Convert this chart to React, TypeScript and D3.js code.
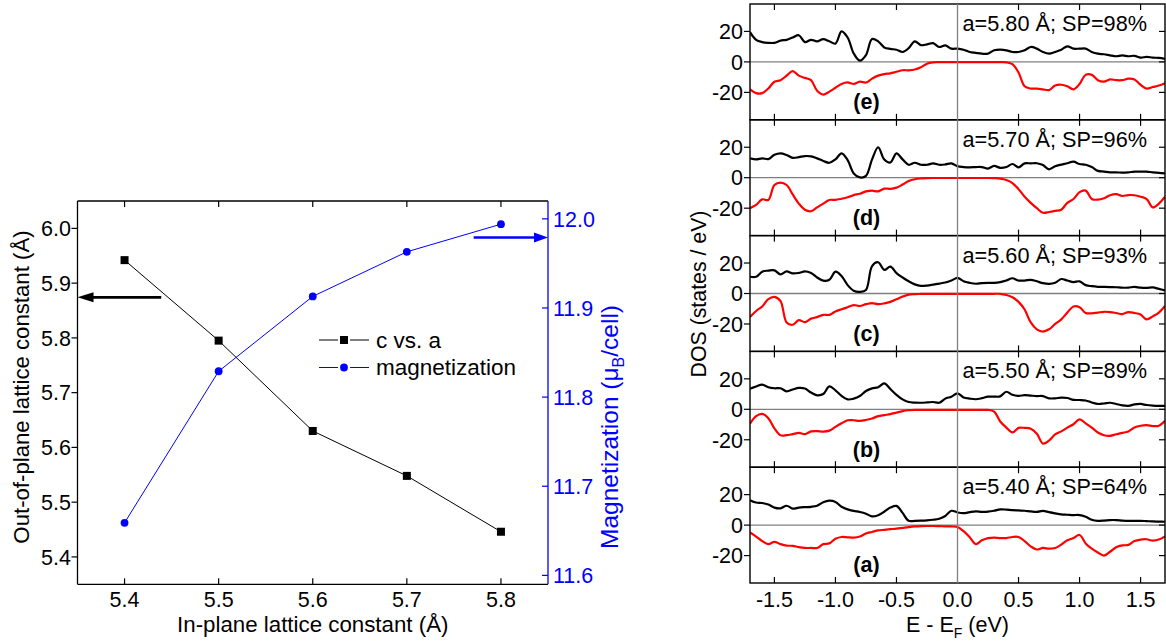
import React from "react";
import * as d3 from "d3";

// ---------------- Left chart data ----------------
const latticeA = [5.4, 5.5, 5.6, 5.7, 5.8];
const cLattice = [5.942, 5.795, 5.63, 5.548, 5.446];
const magnetization = [11.659, 11.829, 11.913, 11.963, 11.994];
const leftXTicks = [5.4, 5.5, 5.6, 5.7, 5.8];
const leftYTicks = [5.4, 5.5, 5.6, 5.7, 5.8, 5.9, 6.0];
const magTicks = [11.6, 11.7, 11.8, 11.9, 12.0];
const legendLabels = ["c vs. a", "magnetization"];

// ---------------- DOS data ----------------
const energy = [
  -1.7, -1.65, -1.6, -1.55, -1.5, -1.45, -1.4, -1.35, -1.3, -1.25, -1.2, -1.15, -1.1, -1.05, -1.0,
  -0.95, -0.9, -0.85, -0.8, -0.75, -0.7, -0.65, -0.6, -0.55, -0.5, -0.45, -0.4, -0.35, -0.3, -0.25,
  -0.2, -0.15, -0.1, -0.05, 0.0, 0.05, 0.1, 0.15, 0.2, 0.25, 0.3, 0.35, 0.4, 0.45, 0.5, 0.55, 0.6,
  0.65, 0.7, 0.75, 0.8, 0.85, 0.9, 0.95, 1.0, 1.05, 1.1, 1.15, 1.2, 1.25, 1.3, 1.35, 1.4, 1.45, 1.5,
  1.55, 1.6, 1.65, 1.7,
];
const energyTicks = [-1.5, -1.0, -0.5, 0.0, 0.5, 1.0, 1.5];
const dosTicks = [-20, 0, 20];

// panel (e) a=5.80
const upE = [
  19.5, 14.5, 13, 12.5, 12.5, 14, 14.5, 16, 17.5, 13, 14.5, 13.5, 15, 13.5, 12,
  20, 16, 5.5, 0.8, 4.5, 15, 13.5, 9.5, 8.5, 8, 6.5, 9, 13.5, 11, 11.5, 12.3, 9.8, 10.8, 8.7,
  8.7, 8, 6.5, 5.9, 5.4, 5.4, 7.6, 8, 7.6, 6.5, 6.5, 7.6, 9.8, 8.7, 6.5, 5.4, 6.5, 8, 10.2, 8.7,
  8.7, 8.7, 6.5, 5.4, 5, 4.3, 3.7, 4.3, 3.7, 4, 2.8, 3.3, 2.8, 2.6, 2,
];
const downE = [
  -18, -20.5, -20.5, -17.5, -13, -12, -9, -6, -9, -10.5, -12, -19, -21.5, -19.5, -17,
  -14.5, -13.5, -14.5, -13, -13.5, -11, -9, -8, -7.5, -6.5, -5.5, -5.5, -5, -3.5, -1.2, -0.3, -0.2,
  -0.2, -0.2,
  -0.2, -0.2, -0.2, -0.2, -0.2, -0.2, -0.2, -0.2, -0.3, -1.5, -7, -16, -17.5, -17.5, -18, -18.5,
  -15.5, -15, -16, -18, -14.5, -8.5, -8.5, -12, -13, -11.5, -12, -12, -11, -11.5, -15, -17.5, -16.5,
  -15.5, -14,
];
// panel (d) a=5.70
const upD = [
  12.7, 12, 12.7, 12.2, 15, 16, 14.9, 13, 13.5, 14.2, 14, 12.7, 11, 9.8, 12,
  16, 11.6, 2.8, 0.2, 1.2, 12, 20, 12, 10, 16, 12, 8.5, 9.8, 8.5, 8.5, 9.4, 8.5, 8.7, 9.4,
  7.5, 7, 6.8, 7, 7, 6, 7.7, 6.5, 7, 9, 6.8, 9.4, 9.4, 9.5, 8.3, 5.5, 7.5, 8.6, 9.5, 10.5, 9, 8.5,
  7, 4.5, 4, 3.5, 3.5, 3.3, 3.5, 4, 4, 4, 3.5, 3.2, 2.8,
];
const downD = [
  -20, -17.9, -14.2, -14.6, -4.8, -3.2, -4.8, -11, -17, -21, -22, -19.5, -17, -14.6, -14.6,
  -13.8, -12.8, -11.4, -10.5, -9, -8.5, -9, -7.2, -7.3, -6.5, -4.5, -2.2, -1, -0.5, -0.3, -0.2,
  -0.2, -0.2, -0.2,
  -0.2, -0.2, -0.2, -0.2, -0.2, -0.2, -0.3, -0.6, -1.5, -3.5, -7.5, -12.5, -16.5, -20, -23, -22.5,
  -21.8, -21, -16.5, -14, -9.5, -8.5, -14, -14.4, -13.5, -11.5, -10.8, -12, -11.4, -11.5, -12.5,
  -14, -19.5, -17, -12.5,
];
// panel (c) a=5.60
const upC = [
  11, 11, 14.3, 15, 15.2, 12.5, 14.5, 13.2, 13.5, 14.5, 13.5, 10.5, 8.4, 9, 14.3,
  11.5, 5.5, 1.8, 1.1, 2.3, 18, 20.5, 15.5, 17.6, 13.4, 10.5, 8, 6, 5, 5.2, 5.8, 6.5, 7.2, 8.5,
  10.2, 8, 7, 6.4, 6.8, 7, 7, 7.5, 8.5, 10, 8.5, 8.5, 9, 8, 6.8, 6.3, 7, 9.5, 8.5, 7.5, 8, 5.5,
  4.8, 4.4, 4.3, 4.2, 4.1, 3.8, 3.9, 4.3, 3.8, 3.7, 4, 3, 2,
];
const downC = [
  -15.5, -11.5, -8.5, -3.7, -2.2, -5, -19, -20.5, -17.5, -18.8, -16.5, -15.5, -14, -14, -11.8,
  -10.3, -9, -7.6, -8.2, -7, -6.3, -7, -6.5, -5.5, -3.8, -2, -0.7, -0.4, -0.3, -0.2, -0.2, -0.2,
  -0.2, -0.2,
  -0.2, -0.2, -0.2, -0.2, -0.2, -0.2, -0.2, -0.2, -1, -2.5, -5.5, -10.5, -19, -23.5, -25, -23.5,
  -20, -17, -12.5, -8.5, -9, -12.8, -13, -12.5, -12, -12.2, -12.8, -13.5, -12.2, -12.8, -13.8,
  -17, -15, -12.5, -8.2,
];
// panel (b) a=5.50
const upB = [
  13.5, 15, 16.2, 14.5, 13.8, 13.8, 11.8, 13, 14, 13.6, 11, 9.2, 10, 15, 12.5,
  8.8, 6.5, 7, 8.7, 12, 13.7, 14.5, 17, 13.3, 9.5, 6.5, 4.8, 4.4, 4.3, 4.5, 4.8, 4.3, 7, 8.3,
  10.5, 7.8, 7, 6.6, 7.3, 8.3, 8.3, 8.5, 11.5, 9.5, 8.8, 9.3, 9, 8.7, 8.7, 7.2, 7.2, 7.6, 7.4,
  6.2, 6.1, 5.8, 4.5, 3.5, 3.8, 4.3, 3.5, 2.6, 2.3, 3.2, 3.5, 2.8, 2.4, 2.2, 2.2,
];
const downB = [
  -9.5, -4.5, -3, -5.8, -12.5, -17, -17, -16.3, -15.5, -16.3, -14.5, -14.3, -14.6, -14, -11.5,
  -9.2, -7.2, -7.2, -7.6, -7, -6, -4.5, -3.8, -3.2, -2.2, -1.2, -0.6, -0.4, -0.4, -0.4, -0.4,
  -0.4, -0.4, -0.4,
  -0.4, -0.4, -0.4, -0.4, -0.4, -0.4, -1.5, -8, -12, -15.2, -12.2, -12.2, -12.8, -16, -22.5,
  -20.5, -16.5, -14.5, -12, -9.8, -6.6, -9.2, -12, -15.2, -17, -17.4, -16.4, -15.5, -14.5, -12,
  -10.8, -10.4, -11, -10.8, -7.6,
];
// panel (a) a=5.40
const upA = [
  16.3, 14.8, 14.5, 13.5, 11.5, 11, 12.7, 10.8, 11.5, 11.8, 12, 12.7, 15, 16, 15.2,
  12, 10.3, 9.3, 8.6, 7.5, 5.7, 6.5, 8.8, 11.5, 12.6, 8, 2.8, 2.8, 2.9, 3.1, 3.5, 4.2, 6, 9.4,
  8.3, 7.8, 8.5, 9, 8.7, 8.8, 9.4, 10.3, 10.2, 9.8, 9.6, 9.4, 9, 8.7, 9.4, 8.5, 7.7, 7, 6.8, 6.6,
  6.6, 5.5, 3.5, 2.8, 3, 3.3, 3.3, 3, 2.8, 2.8, 2.8, 2.6, 2.4, 2.3, 2.2,
];
const downA = [
  -4.8, -7.5, -10.5, -12.5, -11, -12.5, -13.5, -13.6, -14.5, -15, -15, -15, -12.5, -12, -9,
  -7.8, -8, -8.2, -7.5, -5.5, -4.5, -3.5, -3.1, -2.7, -2.3, -1.8, -1.3, -0.9, -0.7, -0.6, -0.6,
  -0.7, -0.8, -0.9,
  -1.2, -4, -8, -12.5, -10, -8.5, -8.2, -8.5, -8.5, -7.8, -7.8, -10.5, -14, -16, -15, -15.5, -15,
  -12.8, -10, -8.5, -6.5, -12, -15.5, -18, -20, -17.5, -14.5, -13.3, -13, -10.5, -9.5, -9.3,
  -10.2, -9.5, -7.4,
];

const panelLabels = ["(e)", "(d)", "(c)", "(b)", "(a)"];
const panelLattice = ["5.80", "5.70", "5.60", "5.50", "5.40"];
const panelSP = ["98", "96", "93", "89", "64"];
const panelUp = [upE, upD, upC, upB, upA];
const panelDown = [downE, downD, downC, downB, downA];

const FONT = "'Liberation Sans', Arial, Helvetica, sans-serif";
const BLUE = "#0000ff";

function LeftChart() {
  const L = { left: 77.5, right: 548, top: 201, bottom: 584.3 };
  const x = d3.scaleLinear().domain([5.35, 5.85]).range([L.left, L.right]);
  const yC = d3.scaleLinear().domain([5.35, 6.05]).range([L.bottom, L.top]);
  const yM = d3.scaleLinear().domain([11.59, 12.02]).range([L.bottom, L.top]);
  const cLine = d3.line<number>().x((_, i) => x(latticeA[i])).y((d) => yC(d));
  const mLine = d3.line<number>().x((_, i) => x(latticeA[i])).y((d) => yM(d));
  const fs = 21.5;
  // arrow annotations (data coords)
  const blackArrow = { y: 5.874, x0: 5.439 };
  const blueArrow = { y: 11.979, x0: 5.771 };
  const by = yC(blackArrow.y);
  const bly = yM(blueArrow.y);
  return (
    <g fontFamily={FONT}>
      {/* box */}
      <line x1={L.left} x2={L.right} y1={L.top} y2={L.top} stroke="#000" strokeWidth={1.3} />
      <line x1={L.left} x2={L.right} y1={L.bottom} y2={L.bottom} stroke="#000" strokeWidth={1.3} />
      <line x1={L.left} x2={L.left} y1={L.top} y2={L.bottom} stroke="#000" strokeWidth={1.3} />
      <line x1={L.right} x2={L.right} y1={L.top} y2={L.bottom} stroke={BLUE} strokeWidth={1.3} />
      {/* x ticks */}
      {leftXTicks.map((t) => (
        <g key={"xt" + t}>
          <line x1={x(t)} x2={x(t)} y1={L.bottom} y2={L.bottom - 6} stroke="#000" strokeWidth={1.2} />
          <line x1={x(t)} x2={x(t)} y1={L.top} y2={L.top + 6} stroke="#000" strokeWidth={1.2} />
          <text x={x(t)} y={607} fontSize={fs} textAnchor="middle" fill="#000">
            {t.toFixed(1)}
          </text>
        </g>
      ))}
      {/* left y ticks */}
      {leftYTicks.map((t) => (
        <g key={"yt" + t}>
          <line x1={L.left} x2={L.left - 6} y1={yC(t)} y2={yC(t)} stroke="#000" strokeWidth={1.2} />
          <text x={71} y={yC(t)} dy="0.36em" fontSize={fs} textAnchor="end" fill="#000">
            {t.toFixed(1)}
          </text>
        </g>
      ))}
      {/* right y ticks */}
      {magTicks.map((t) => (
        <g key={"mt" + t}>
          <line x1={L.right} x2={L.right - 6} y1={yM(t)} y2={yM(t)} stroke={BLUE} strokeWidth={1.2} />
          <text x={553} y={yM(t)} dy="0.36em" fontSize={fs} textAnchor="start" fill={BLUE}>
            {t.toFixed(1)}
          </text>
        </g>
      ))}
      {/* axis titles */}
      <text x={(L.left + L.right) / 2} y={632} fontSize={22.3} textAnchor="middle" fill="#000">
        In-plane lattice constant (Å)
      </text>
      <text transform={`translate(29,387) rotate(-90)`} fontSize={22.2} textAnchor="middle" fill="#000">
        Out-of-plane lattice constant (Å)
      </text>
      <text transform={`translate(618,427) rotate(-90)`} fontSize={24.5} textAnchor="middle" fill={BLUE}>
        Magnetization (μ
        <tspan fontSize={16} dy={6}>B</tspan>
        <tspan dy={-6}>/cell)</tspan>
      </text>
      {/* series */}
      <path d={cLine(cLattice) || ""} fill="none" stroke="#000" strokeWidth={1} />
      <path d={mLine(magnetization) || ""} fill="none" stroke={BLUE} strokeWidth={1} />
      {cLattice.map((v, i) => (
        <rect key={"sq" + i} x={x(latticeA[i]) - 4} y={yC(v) - 4} width={8} height={8} fill="#000" />
      ))}
      {magnetization.map((v, i) => (
        <circle key={"ci" + i} cx={x(latticeA[i])} cy={yM(v)} r={3.9} fill={BLUE} />
      ))}
      {/* arrows */}
      <line x1={x(blackArrow.x0)} x2={L.left + 12} y1={by} y2={by} stroke="#000" strokeWidth={2.6} />
      <path d={`M${L.left},${by} L${L.left + 16},${by - 5} L${L.left + 16},${by + 5} Z`} fill="#000" />
      <line x1={x(blueArrow.x0)} x2={L.right - 12} y1={bly} y2={bly} stroke={BLUE} strokeWidth={2.6} />
      <path d={`M${L.right},${bly} L${L.right - 14},${bly - 5} L${L.right - 14},${bly + 5} Z`} fill={BLUE} />
      {/* legend */}
      <g>
        <line x1={319} x2={338} y1={340} y2={340} stroke="#000" strokeWidth={1} />
        <line x1={350} x2={369} y1={340} y2={340} stroke="#000" strokeWidth={1} />
        <rect x={340} y={336} width={8} height={8} fill="#000" />
        <text x={376} y={347.5} fontSize={22.5} fill="#000">{legendLabels[0]}</text>
        <line x1={319} x2={338} y1={367.5} y2={367.5} stroke={BLUE} strokeWidth={1} />
        <line x1={350} x2={369} y1={367.5} y2={367.5} stroke={BLUE} strokeWidth={1} />
        <circle cx={344} cy={367.5} r={3.9} fill={BLUE} />
        <text x={376} y={375} fontSize={22.5} fill="#000">{legendLabels[1]}</text>
      </g>
    </g>
  );
}

function DosPanels() {
  const R = { left: 750, right: 1165, top: 4, bottom: 583 };
  const n = 5;
  const ph = (R.bottom - R.top) / n;
  const x = d3.scaleLinear().domain([-1.7, 1.7]).range([R.left, R.right]);
  const fs = 21.5;
  return (
    <g fontFamily={FONT}>
      {panelUp.map((up, p) => {
        const top = R.top + p * ph;
        const bottom = top + ph;
        const y = d3.scaleLinear().domain([-38, 38]).range([bottom, top]);
        const line = d3
          .line<number>()
          .x((_, i) => x(energy[i]))
          .y((d) => y(d))
          .curve(d3.curveCatmullRom.alpha(0.5));
        const down = panelDown[p];
        return (
          <g key={"p" + p}>
            <defs>
              <clipPath id={"clip" + p}>
                <rect x={R.left} y={top} width={R.right - R.left} height={ph} />
              </clipPath>
            </defs>
            {/* zero line */}
            <line x1={R.left} x2={R.right} y1={y(0)} y2={y(0)} stroke="#7f7f7f" strokeWidth={1.3} />
            <g clipPath={`url(#clip${p})`}>
              <path d={line(up) || ""} fill="none" stroke="#000" strokeWidth={2.2} />
              <path d={line(down) || ""} fill="none" stroke="#ff0000" strokeWidth={2.2} />
            </g>
            {/* ticks */}
            {energyTicks
              .filter((t) => t !== 0)
              .map((t) => (
                <g key={"et" + t}>
                  <line x1={x(t)} x2={x(t)} y1={bottom} y2={bottom - 6} stroke="#000" strokeWidth={1.2} />
                  <line x1={x(t)} x2={x(t)} y1={top} y2={top + 6} stroke="#000" strokeWidth={1.2} />
                </g>
              ))}
            {dosTicks.map((t) => (
              <g key={"dt" + t}>
                <line x1={R.left} x2={R.left - 6} y1={y(t)} y2={y(t)} stroke="#000" strokeWidth={1.2} />
                <line x1={R.right} x2={R.right - 6} y1={y(t)} y2={y(t)} stroke="#000" strokeWidth={1.2} />
                <text x={743} y={y(t)} dy="0.36em" fontSize={fs} textAnchor="end" fill="#000">
                  {t}
                </text>
              </g>
            ))}
            {/* box */}
            <rect x={R.left} y={top} width={R.right - R.left} height={ph} fill="none" stroke="#000" strokeWidth={1.4} />
            {/* annotations */}
            <text x={962.5} y={y(20) - 0.5} fontSize={21.7} fill="#000">
              {`a=${panelLattice[p]} Å; SP=${panelSP[p]}%`}
            </text>
            <text x={866.5} y={y(-31)} fontSize={21.5} fontWeight="bold" textAnchor="middle" fill="#000">
              {panelLabels[p]}
            </text>
          </g>
        );
      })}
      {/* vertical E_F line */}
      <line x1={x(0)} x2={x(0)} y1={R.top} y2={R.bottom} stroke="#7f7f7f" strokeWidth={1.3} />
      {/* x tick labels */}
      {energyTicks.map((t) => (
        <text key={"el" + t} x={x(t)} y={607} fontSize={fs} textAnchor="middle" fill="#000">
          {t.toFixed(1)}
        </text>
      ))}
      <text x={x(0)} y={632} fontSize={21.5} textAnchor="middle" fill="#000">
        E - E<tspan fontSize={14} dy={6}>F</tspan>
        <tspan dy={-6}> (eV)</tspan>
      </text>
      <text transform={`translate(706,294) rotate(-90)`} fontSize={21.3} textAnchor="middle" fill="#000">
        DOS (states / eV)
      </text>
    </g>
  );
}

export default function App() {
  return (
    <svg
      width={1166}
      height={642}
      viewBox="0 0 1166 642"
      style={{ position: "absolute", left: 0, top: 0, background: "#fff" }}
    >
      <rect x={0} y={0} width={1166} height={642} fill="#fff" />
      <LeftChart />
      <DosPanels />
    </svg>
  );
}
